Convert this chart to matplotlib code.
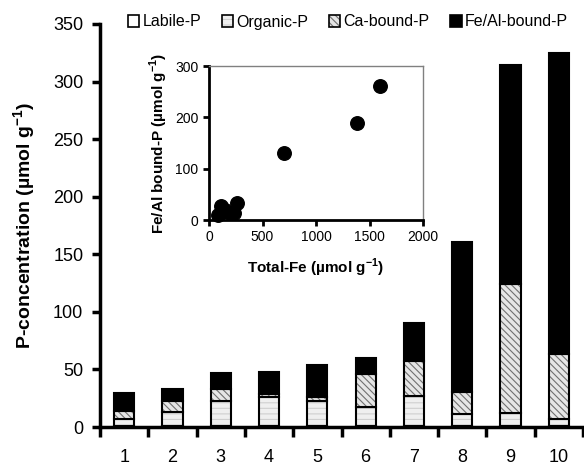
import matplotlib
matplotlib.use("Agg")
import matplotlib.pyplot as plt
from matplotlib.patches import Patch
import numpy as np

plt.rcParams['font.family'] = ['Liberation Sans', 'DejaVu Sans']
plt.rcParams['hatch.linewidth'] = 0.8

sites = ['1', '2', '3', '4', '5', '6', '7', '8', '9', '10']
labile_p = [1.0, 1.0, 1.0, 1.0, 1.0, 1.0, 1.0, 1.0, 1.0, 1.0]
organic_p = [5.7, 11.8, 21.8, 24.8, 21.3, 16.1, 26.2, 10.3, 11.4, 5.7]
ca_bound_p = [7.4, 10.0, 9.9, 2.8, 3.5, 28.6, 30.1, 19.3, 111.7, 56.7]
feal_bound_p = [15.7, 9.9, 14.4, 19.1, 28.0, 13.9, 32.7, 130.3, 189.9, 261.6]

total_fe = [120, 80, 200, 150, 110, 230, 260, 700, 1380, 1600]

fig = plt.figure(figsize=(5.84, 4.68), dpi=100)
ax = fig.add_axes([100/584, 1-427/468, 483/584, 403/468])

x = np.arange(1, len(sites) + 1)
w = 0.42
labile = np.array(labile_p)
org = np.array(organic_p)
ca = np.array(ca_bound_p)
fe = np.array(feal_bound_p)

ORG_FACE, ORG_HATCH = '#efefef', '#cfcfcf'
CA_FACE, CA_HATCH = '#e6e6e6', '#707070'

# Labile-P
ax.bar(x, labile, w, color='white', edgecolor='black', linewidth=1.5)
# Organic-P
b0 = labile
ax.bar(x, org, w, bottom=b0, color=ORG_FACE, edgecolor=ORG_HATCH, hatch='---', linewidth=0)
ax.bar(x, org, w, bottom=b0, fill=False, edgecolor='black', linewidth=1.5)
# Ca-bound-P
b1 = labile + org
ax.bar(x, ca, w, bottom=b1, color=CA_FACE, edgecolor=CA_HATCH, hatch='\\\\\\\\\\', linewidth=0)
ax.bar(x, ca, w, bottom=b1, fill=False, edgecolor='black', linewidth=1.5)
# Fe/Al-bound-P
b2 = b1 + ca
ax.bar(x, fe, w, bottom=b2, color='black', edgecolor='black', linewidth=1.5)

ax.set_xlim(0.5, 10.5)
ax.set_ylim(0, 350)
ax.set_yticks(np.arange(0, 351, 50))
ax.set_xticks(x)
ax.set_xticklabels(sites)
ax.set_xticks(np.arange(0.5, 10.6, 1), minor=True)
ax.tick_params(axis='x', which='major', length=0, labelsize=13, pad=16)
ax.tick_params(axis='x', which='minor', length=7, width=2.5, direction='out')
ax.tick_params(axis='y', length=6, width=2.5, labelsize=13, direction='out', pad=6)
for s in ['top', 'right']:
    ax.spines[s].set_visible(False)
for s in ['left', 'bottom']:
    ax.spines[s].set_linewidth(2.5)
ax.set_ylabel('P-concentration (µmol g$^{\\mathregular{-1}}$)', fontsize=14,
              fontweight='bold', labelpad=11)

# Legend
h_lab = Patch(facecolor='white', edgecolor='black', linewidth=1.2)
h_org = (Patch(facecolor=ORG_FACE, edgecolor=ORG_HATCH, hatch='---', linewidth=0),
         Patch(fill=False, edgecolor='black', linewidth=1.2))
h_ca = (Patch(facecolor=CA_FACE, edgecolor=CA_HATCH, hatch='\\\\\\\\\\', linewidth=0),
        Patch(fill=False, edgecolor='black', linewidth=1.2))
h_fe = Patch(facecolor='black', edgecolor='black', linewidth=1.2)
fig.legend([h_lab, h_org, h_ca, h_fe],
           ['Labile-P', 'Organic-P', 'Ca-bound-P', 'Fe/Al-bound-P'],
           loc='center', bbox_to_anchor=(348/584, 1-22/468), ncol=4,
           frameon=False, fontsize=11.5, handlelength=0.7, handleheight=0.7,
           handletextpad=0.2, columnspacing=1.3, borderaxespad=0, borderpad=0)

# Inset
ins = fig.add_axes([209/584, 1-220/468, 214/584, 154/468])
ins.scatter(total_fe, feal_bound_p, s=95, color='black', zorder=3, clip_on=False)
ins.set_xlim(0, 2000)
ins.set_ylim(0, 300)
ins.set_xticks([0, 500, 1000, 1500, 2000])
ins.set_yticks([0, 100, 200, 300])
ins.tick_params(axis='both', labelsize=10, length=4, width=2, direction='out')
for s in ['left', 'bottom']:
    ins.spines[s].set_linewidth(2)
for s in ['top', 'right']:
    ins.spines[s].set_linewidth(1)
    ins.spines[s].set_color('#808080')
ins.set_xlabel('Total-Fe (µmol g$^{\\mathregular{-1}}$)', fontsize=11, fontweight='bold', labelpad=9)
ins.set_ylabel('Fe/Al bound-P (µmol g$^{\\mathregular{-1}}$)', fontsize=11, fontweight='bold', labelpad=4)

fig.savefig('out.png', dpi=100)
